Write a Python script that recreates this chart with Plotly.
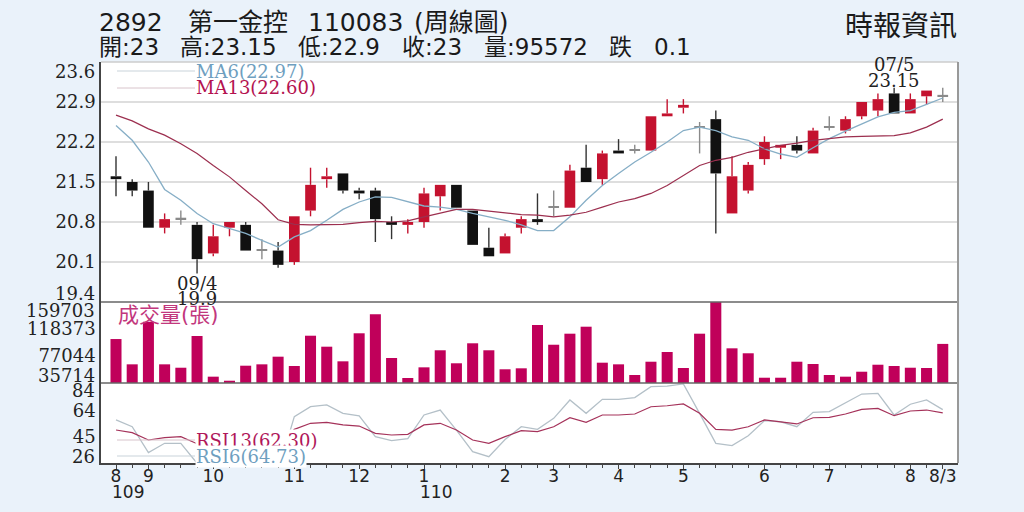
import plotly.graph_objects as go

# 2892 第一金控 weekly K-line, Aug 2020 (民國109) to 2021/08/03 (民國110)
opens = [21.60, 21.50, 21.35, 20.70, 20.85, 20.75, 20.25, 20.70, 20.75, 20.30,
         20.30, 20.10, 21.00, 21.55, 21.65, 21.35, 21.35, 20.80, 20.75, 20.80,
         21.25, 21.45, 21.00, 20.35, 20.25, 20.70, 20.85, 21.05, 21.05, 21.75,
         21.55, 22.05, 22.05, 22.05, 22.65, 22.80, 22.45, 22.60, 20.95, 21.35,
         21.90, 22.10, 22.15, 22.00, 22.45, 22.40, 22.65, 22.75, 23.05, 22.70,
         23.00, 23.00]
highs = [21.95, 21.55, 21.50, 20.95, 21.00, 20.80, 20.75, 20.80, 20.80, 20.50,
         20.45, 20.90, 21.75, 21.75, 21.65, 21.40, 21.40, 20.90, 20.85, 21.40,
         21.45, 21.45, 21.00, 20.70, 20.60, 20.90, 21.30, 21.35, 21.80, 22.15,
         22.05, 22.25, 22.15, 22.65, 22.95, 22.95, 22.55, 22.75, 21.95, 21.85,
         22.30, 22.15, 22.30, 22.45, 22.65, 22.65, 22.90, 23.05, 23.15, 23.05,
         23.10, 23.15]
lows = [21.25, 21.25, 20.70, 20.60, 20.75, 19.90, 20.20, 20.55, 20.30, 20.15,
        20.00, 20.05, 20.90, 21.40, 21.30, 21.20, 20.45, 20.50, 20.60, 20.70,
        21.00, 21.05, 20.40, 20.20, 20.25, 20.60, 20.75, 20.90, 21.05, 21.50,
        21.45, 22.00, 22.00, 22.05, 22.65, 22.70, 22.00, 20.60, 20.95, 21.30,
        21.80, 21.90, 22.00, 22.00, 22.40, 22.35, 22.60, 22.65, 22.70, 22.70,
        22.85, 22.90]
closes = [21.55, 21.35, 20.70, 20.85, 20.85, 20.15, 20.55, 20.80, 20.30, 20.30,
          20.05, 20.90, 21.45, 21.60, 21.35, 21.30, 20.85, 20.75, 20.80, 21.30,
          21.45, 21.05, 20.40, 20.20, 20.55, 20.85, 20.80, 21.05, 21.70, 21.50,
          22.00, 22.00, 22.05, 22.65, 22.70, 22.85, 22.45, 21.65, 21.60, 21.80,
          22.20, 22.15, 22.05, 22.40, 22.45, 22.60, 22.90, 22.95, 22.70, 22.95,
          23.10, 23.00]
volumes = [103000, 64300, 129500, 64300, 59100, 107700, 45400, 39200, 62200, 64300,
           76000, 61700, 108100, 91300, 68900, 111800, 140900, 74000, 43400, 59700,
           85800, 65900, 96500, 85800, 56700, 58200, 124500, 94300, 111200, 121900,
           66800, 64300, 48000, 68300, 83200, 58700, 111200, 159703, 88800, 81200,
           43800, 43800, 68300, 64800, 48000, 45400, 53000, 63700, 61700, 59100,
           58700, 95572]
ma6 = [22.49, 22.23, 21.85, 21.37, 21.18, 20.95, 20.77, 20.68, 20.60, 20.48,
       20.36, 20.54, 20.65, 20.83, 21.02, 21.15, 21.24, 21.23, 21.15, 21.08,
       21.06, 21.02, 20.95, 20.89, 20.83, 20.75, 20.65, 20.65, 20.89, 21.18,
       21.44, 21.65, 21.85, 22.02, 22.20, 22.40, 22.46, 22.40, 22.29, 22.23,
       22.08, 21.99, 21.93, 22.10, 22.26, 22.39, 22.51, 22.64, 22.72, 22.75,
       22.86, 22.97]
ma13 = [22.67, 22.57, 22.43, 22.32, 22.17, 22.00, 21.79, 21.59, 21.35, 21.12,
        20.84, 20.76, 20.75, 20.75, 20.76, 20.79, 20.81, 20.80, 20.82, 20.89,
        20.96, 21.02, 21.02, 20.99, 20.96, 20.93, 20.92, 20.89, 20.92, 20.97,
        21.06, 21.15, 21.21, 21.30, 21.44, 21.62, 21.79, 21.88, 21.93, 22.02,
        22.08, 22.14, 22.18, 22.23, 22.26, 22.29, 22.30, 22.31, 22.31, 22.36,
        22.46, 22.60]
rsi6 = [57.2, 52.3, 33.5, 40.3, 40.3, 25.8, 30.0, 32.0, 24.0, 24.0,
        20.0, 59.6, 66.8, 68.1, 62.0, 60.1, 45.1, 42.2, 43.6, 60.8,
        64.4, 49.9, 34.2, 30.6, 43.0, 52.3, 50.4, 58.4, 71.7, 62.0,
        72.2, 72.2, 73.4, 81.3, 81.8, 83.3, 62.0, 40.3, 38.6, 45.8,
        56.7, 55.9, 52.3, 62.7, 63.2, 69.3, 76.0, 76.5, 60.8, 68.6,
        71.7, 64.73]
rsi13 = [49.9, 48.0, 42.7, 44.4, 45.1, 40.0, 41.0, 42.0, 39.0, 38.5,
         37.0, 50.4, 54.8, 55.5, 53.6, 52.8, 47.5, 46.3, 46.8, 53.6,
         54.8, 49.9, 42.7, 40.3, 45.1, 49.4, 48.7, 52.3, 58.8, 55.5,
         60.8, 60.8, 61.5, 66.8, 67.5, 68.8, 62.0, 50.4, 49.9, 52.3,
         57.2, 55.9, 54.3, 58.8, 59.1, 61.5, 64.9, 65.6, 60.3, 63.7,
         64.4, 62.3]

month_pos = [0, 2, 6, 11, 15, 19, 24, 27, 31, 35, 40, 44, 49, 51]
month_text = ["8", "9", "10", "11", "12", "1", "2", "3", "4", "5", "6", "7", "8", "8/3"]
year_pos = [0, 19]
year_text = ["109", "110"]

price_ticks = [19.4, 20.1, 20.8, 21.5, 22.2, 22.9, 23.6]
vol_ticks = [35714, 77044, 118373, 159703]
rsi_ticks = [26, 45, 64, 84]

low_date = "09/4"
high_date = "07/5"
title_parts = ["2892", "第一金控", "110083", "(周線圖)"]
quote_parts = ["開:23", "高:23.15", "低:22.9", "收:23", "量:95572", "跌", "0.1"]
source = "時報資訊"

RED = "#c4122f"
BLACK = "#111111"
GRAY = "#8a8a8a"
SERIF = "DejaVu Serif, Liberation Serif, serif"
SANS = "DejaVu Sans, Noto Sans CJK TC, sans-serif"

weeks = list(range(len(closes)))


def candle_color(i):
    if closes[i] > opens[i]:
        return RED
    if closes[i] < opens[i]:
        return BLACK
    return GRAY


def wick_xy(color):
    xs, ys = [], []
    for i in weeks:
        if candle_color(i) != color:
            continue
        top = max(opens[i], closes[i])
        bot = min(opens[i], closes[i])
        xs += [i, i, None, i, i, None]
        ys += [highs[i], top, None, bot, lows[i], None]
    return xs, ys


def px_x(px):
    # page pixel -> paper x (plot area spans 101..958)
    return (px - 101) / 857


def px_y(px):
    # page pixel -> paper y (plot area spans 62..463)
    return (463 - px) / 401


fig = go.Figure()

# candle wicks
for col, wcol in [(RED, RED), (BLACK, "#333333"), (GRAY, GRAY)]:
    wx, wy = wick_xy(col)
    fig.add_trace(go.Scatter(x=wx, y=wy, mode="lines", line=dict(color=wcol, width=1.4),
                             hoverinfo="skip", showlegend=False, xaxis="x", yaxis="y"))

# candle bodies
fig.add_trace(go.Bar(
    x=weeks,
    y=[max(abs(c - o), 0.025) for o, c in zip(opens, closes)],
    base=[min(o, c) for o, c in zip(opens, closes)],
    width=0.66,
    marker=dict(color=[candle_color(i) for i in weeks], line=dict(width=0)),
    showlegend=False, xaxis="x", yaxis="y",
))

# moving averages
fig.add_trace(go.Scatter(x=weeks, y=ma6, mode="lines", line=dict(color="#86aec6", width=1.3),
                         showlegend=False, xaxis="x", yaxis="y"))
fig.add_trace(go.Scatter(x=weeks, y=ma13, mode="lines", line=dict(color="#9c2f4f", width=1.2),
                         showlegend=False, xaxis="x", yaxis="y"))

# volume
fig.add_trace(go.Bar(x=weeks, y=volumes, width=0.68, marker=dict(color="#c0005a", line=dict(width=0)),
                     showlegend=False, xaxis="x", yaxis="y2"))

# RSI
fig.add_trace(go.Scatter(x=weeks, y=rsi6, mode="lines", line=dict(color="#b4c0c8", width=1.3),
                         showlegend=False, xaxis="x", yaxis="y3"))
fig.add_trace(go.Scatter(x=weeks, y=rsi13, mode="lines", line=dict(color="#a5325a", width=1.2),
                         showlegend=False, xaxis="x", yaxis="y3"))

tick_font = dict(family=SERIF, size=18, color="#222222")
AX = "#444444"

fig.update_layout(
    width=1024, height=512, autosize=False,
    margin=dict(l=101, r=66, t=62, b=49),
    paper_bgcolor="#eaf2fa",
    plot_bgcolor="white",
    barmode="overlay",
    xaxis=dict(
        domain=[0, 1], anchor="y3", range=[-0.925, 51.94],
        tickmode="array", tickvals=month_pos, ticktext=month_text,
        ticks="outside", ticklen=4, tickcolor=AX, ticklabelstandoff=-7,
        minor=dict(dtick=1, tick0=0, ticks="outside", ticklen=3, tickcolor=AX),
        showline=True, linecolor=AX, linewidth=1.5,
        showgrid=False, zeroline=False,
        tickfont=dict(family=SANS, size=17, color="#222222"),
    ),
    yaxis=dict(
        domain=[161 / 401, 1], anchor="x", range=[price_ticks[0], price_ticks[-1]],
        tickmode="array", tickvals=price_ticks[1:-1], ticktext=[str(v) for v in price_ticks[1:-1]],
        showgrid=True, gridcolor="#dedede", gridwidth=1.5, zeroline=False,
        showline=True, linecolor=AX, linewidth=1.5, tickfont=tick_font,
    ),
    yaxis2=dict(
        domain=[80 / 401, 161 / 401], anchor="x", range=[vol_ticks[0], vol_ticks[-1]],
        tickmode="array", tickvals=vol_ticks[1:-1], ticktext=[str(v) for v in vol_ticks[1:-1]],
        showgrid=False, zeroline=False,
        showline=True, linecolor=AX, linewidth=1.5, tickfont=tick_font,
    ),
    yaxis3=dict(
        domain=[0, 80 / 401], anchor="x", range=[rsi_ticks[0], rsi_ticks[-1]],
        tickmode="array", tickvals=rsi_ticks[1:-1], ticktext=[str(v) for v in rsi_ticks[1:-1]],
        showgrid=False, zeroline=False,
        showline=True, linecolor=AX, linewidth=1.5, tickfont=tick_font,
    ),
)

# panel borders
shapes = [
    dict(type="line", xref="paper", yref="paper", x0=0, x1=1, y0=1, y1=1, line=dict(color="#cccccc", width=1.5)),
    dict(type="line", xref="paper", yref="paper", x0=0, x1=1, y0=161 / 401, y1=161 / 401, line=dict(color="#666666", width=1.3)),
    dict(type="line", xref="paper", yref="paper", x0=0, x1=1, y0=80 / 401, y1=80 / 401, line=dict(color="#666666", width=1.3)),
    dict(type="line", xref="paper", yref="paper", x0=1, x1=1, y0=0, y1=1, line=dict(color="#999999", width=2)),
]
# legend key lines
for ypx, col in [(71, "#c9d3da"), (88, "#d8c4cb"), (440, "#d8c4cb"), (456, "#c9d3da")]:
    shapes.append(dict(type="line", xref="paper", yref="paper", x0=px_x(117), x1=px_x(195),
                       y0=px_y(ypx), y1=px_y(ypx), line=dict(color=col, width=1)))
fig.update_layout(shapes=shapes)

ann = []
# edge tick labels, nudged inside their panels
for val, yr, shift in [(price_ticks[-1], "y", -9), (price_ticks[0], "y", 9),
                       (vol_ticks[-1], "y2", -8), (vol_ticks[0], "y2", 8),
                       (rsi_ticks[-1], "y3", -7), (rsi_ticks[0], "y3", 7)]:
    ann.append(dict(x=0, xref="paper", y=val, yref=yr, text=str(val), showarrow=False,
                    xanchor="right", yanchor="middle", xshift=-4, yshift=shift, font=tick_font))

# legend texts
legend_items = [
    ("MA6(%.2f)" % ma6[-1], 195, 71, "#6f9fbf", None),
    ("MA13(%.2f)" % ma13[-1], 195, 88, "#b4124f", None),
    ("RSI13(%.2f)" % rsi13[-1], 195, 440, "#b0175a", "white"),
    ("RSI6(%.2f)" % rsi6[-1], 195, 456, "#6f9fbf", "white"),
]
for txt, xp, yp, col, bg in legend_items:
    ann.append(dict(x=px_x(xp), y=px_y(yp), xref="paper", yref="paper", text=txt,
                    showarrow=False, xanchor="left", yanchor="middle", bgcolor=bg, borderpad=0,
                    font=dict(family=SERIF, size=18, color=col)))
ann.append(dict(x=px_x(116), y=px_y(315), xref="paper", yref="paper", text="成交量(張)",
                showarrow=False, xanchor="left", yanchor="middle",
                font=dict(family=SANS, size=21, color="#c2377d")))

# low / high markers
lo_i = lows.index(min(lows))
hi_i = highs.index(max(highs))
mark_font = dict(family=SERIF, size=18, color="#222222")
ann.append(dict(x=lo_i, y=lows[lo_i], xref="x", yref="y", text=low_date, showarrow=False,
                yanchor="top", yshift=2, font=mark_font))
ann.append(dict(x=lo_i, y=lows[lo_i], xref="x", yref="y", text=str(lows[lo_i]), showarrow=False,
                yanchor="top", yshift=-13, font=mark_font))
ann.append(dict(x=hi_i, y=highs[hi_i], xref="x", yref="y", text="%.2f" % highs[hi_i], showarrow=False,
                yanchor="bottom", yshift=-5, font=mark_font))
ann.append(dict(x=hi_i, y=highs[hi_i], xref="x", yref="y", text=high_date, showarrow=False,
                yanchor="bottom", yshift=11, font=mark_font))

# year labels under the month ticks
for p, t in zip(year_pos, year_text):
    ann.append(dict(x=p, y=px_y(492), xref="x", yref="paper", text=t, showarrow=False,
                    xanchor="left", yanchor="middle", xshift=-6,
                    font=dict(family=SANS, size=17, color="#222222")))

# header
for txt, xp in zip(title_parts, [97, 186, 306, 412]):
    ann.append(dict(x=px_x(xp), y=px_y(23), xref="paper", yref="paper", text=txt, showarrow=False,
                    xanchor="left", yanchor="middle", font=dict(family=SANS, size=25, color="#1a1a1a")))
for txt, xp in zip(quote_parts, [97, 178, 296, 400, 482, 607, 652]):
    ann.append(dict(x=px_x(xp), y=px_y(47), xref="paper", yref="paper", text=txt, showarrow=False,
                    xanchor="left", yanchor="middle", font=dict(family=SANS, size=23, color="#1a1a1a")))
ann.append(dict(x=px_x(959), y=px_y(26), xref="paper", yref="paper", text=source, showarrow=False,
                xanchor="right", yanchor="middle", font=dict(family=SANS, size=28, color="#1a1a1a")))

fig.update_layout(annotations=ann)

# drop the browser's default body margin so the figure sits at the page origin
fig.write_html("out.html", config={"displayModeBar": False},
               post_script="document.body.style.margin='0';")
